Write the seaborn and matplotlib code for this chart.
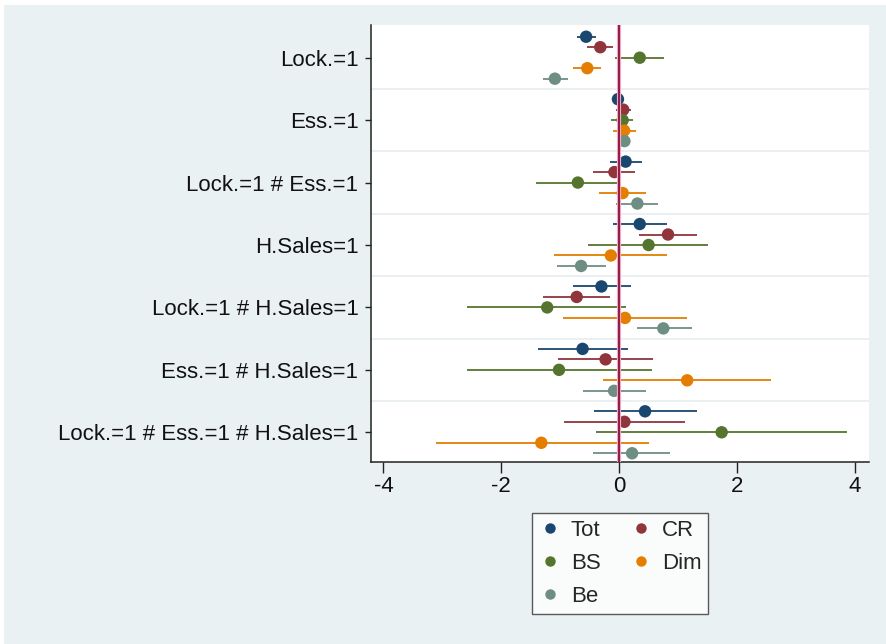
import numpy as np
import pandas as pd
import seaborn as sns
import matplotlib
matplotlib.use("Agg")
import matplotlib.pyplot as plt
from matplotlib.lines import Line2D
from matplotlib.patches import Rectangle

# ---------------- data ----------------
terms = ["Lock.=1", "Ess.=1", "Lock.=1 # Ess.=1", "H.Sales=1",
         "Lock.=1 # H.Sales=1", "Ess.=1 # H.Sales=1",
         "Lock.=1 # Ess.=1 # H.Sales=1"]
series = ["Tot", "CR", "BS", "Dim", "Be"]

tot_est = [-0.56, -0.02, 0.11, 0.35, -0.30, -0.62, 0.44]
tot_lo = [-0.71, -0.06, -0.16, -0.10, -0.79, -1.38, -0.42]
tot_hi = [-0.39, 0.02, 0.38, 0.81, 0.21, 0.15, 1.32]

cr_est = [-0.32, 0.07, -0.08, 0.83, -0.72, -0.23, 0.09]
cr_lo = [-0.54, -0.05, -0.45, 0.33, -1.30, -1.04, -0.93]
cr_hi = [-0.10, 0.21, 0.27, 1.32, -0.16, 0.58, 1.12]

bs_est = [0.35, 0.06, -0.70, 0.50, -1.22, -1.02, 1.74]
bs_lo = [-0.07, -0.13, -1.41, -0.53, -2.58, -2.58, -0.39]
bs_hi = [0.76, 0.24, 0.00, 1.50, 0.12, 0.55, 3.86]

dim_est = [-0.54, 0.085, 0.06, -0.14, 0.10, 1.155, -1.32]
dim_lo = [-0.78, -0.11, -0.34, -1.10, -0.96, -0.27, -3.11]
dim_hi = [-0.30, 0.29, 0.46, 0.81, 1.15, 2.58, 0.51]

be_est = [-1.09, 0.09, 0.31, -0.645, 0.75, -0.085, 0.22]
be_lo = [-1.30, 0.00, -0.06, -1.06, 0.30, -0.61, -0.44]
be_hi = [-0.87, 0.18, 0.66, -0.23, 1.23, 0.46, 0.87]

xticks = [-4, -2, 0, 2, 4]

# ---------------- table ----------------
est = {"Tot": tot_est, "CR": cr_est, "BS": bs_est, "Dim": dim_est, "Be": be_est}
lo = {"Tot": tot_lo, "CR": cr_lo, "BS": bs_lo, "Dim": dim_lo, "Be": be_lo}
hi = {"Tot": tot_hi, "CR": cr_hi, "BS": bs_hi, "Dim": dim_hi, "Be": be_hi}

offsets = {s: (i - 2) * 0.168 for i, s in enumerate(series)}
rows = []
for s in series:
    for g, t in enumerate(terms):
        rows.append(dict(term=t, series=s, ypos=g + offsets[s],
                         est=est[s][g], lo=lo[s][g], hi=hi[s][g]))
df = pd.DataFrame(rows)

colors = {"Tot": "#1a476f", "CR": "#90353b", "BS": "#55752f",
          "Dim": "#e37e00", "Be": "#6e8e84"}

# ---------------- figure ----------------
sns.set_theme(style="white")
plt.rcParams["font.family"] = ["Liberation Sans", "DejaVu Sans"]

fig = plt.figure(figsize=(8.87, 6.44), dpi=100, facecolor="white")
fig.patches.append(Rectangle((4 / 887, 0), 1, 1 - 5 / 644,
                             transform=fig.transFigure,
                             facecolor="#eaf1f3", edgecolor="none", zorder=-10))
ax = fig.add_axes([371 / 887, 1 - 462 / 644, (869 - 371) / 887, (462 - 25) / 644])
ax.set_facecolor("white")

# separators between groups
for k in range(len(terms) - 1):
    ax.axhline(k + 0.5, color="#e6edf0", lw=1.2, zorder=0)

# confidence intervals
for s in series:
    d = df[df.series == s]
    ax.hlines(d.ypos, d.lo, d.hi, color=colors[s], lw=1.3, zorder=2)

sns.scatterplot(data=df, x="est", y="ypos", hue="series", palette=colors,
                hue_order=series, s=80, linewidth=0, ax=ax, zorder=3,
                legend=False)

# zero line
ax.axvline(0, color="#f0a8c8", lw=3.0, zorder=4)
ax.axvline(0, color="#8c1038", lw=1.3, zorder=5)

ax.set_xlim(-4.21, 4.24)
ax.set_ylim(6.476, -0.524)
ax.set_xticks(xticks)
ax.set_xticklabels([f"{v}" for v in xticks])
ax.set_yticks(range(len(terms)))
ax.set_yticklabels(terms)
ax.set_xlabel("")
ax.set_ylabel("")

for side in ["top", "right"]:
    ax.spines[side].set_visible(False)
for side in ["left", "bottom"]:
    ax.spines[side].set_color("#222222")
    ax.spines[side].set_linewidth(1.1)

ax.tick_params(axis="x", direction="out", length=8, width=1.0, color="#222222",
               labelsize=16, labelcolor="#111111", pad=2)
ax.tick_params(axis="y", direction="out", length=4, width=1.0, color="#222222",
               labelsize=16, labelcolor="#111111", pad=5)
ax.tick_params(left=True, bottom=True)

# legend (row-major display: Tot CR / BS Dim / Be)
order = ["Tot", "BS", "Be", "CR", "Dim"]
handles = [Line2D([], [], marker="o", ls="none", color=colors[s],
                  markersize=7.5, markeredgewidth=0) for s in order]
leg = fig.legend(handles, order, ncol=2, loc="upper center",
                 bbox_to_anchor=(620 / 887, 1 - 513 / 644),
                 bbox_transform=fig.transFigure, frameon=True, fancybox=False,
                 fontsize=16, handletextpad=0.45, columnspacing=1.3,
                 labelspacing=0.55, borderpad=0.3, handlelength=1.0,
                 borderaxespad=0)
leg.get_frame().set_edgecolor("#333333")
leg.get_frame().set_linewidth(1.0)
leg.get_frame().set_facecolor("white")

fig.savefig("out.png", dpi=100, facecolor=fig.get_facecolor())
